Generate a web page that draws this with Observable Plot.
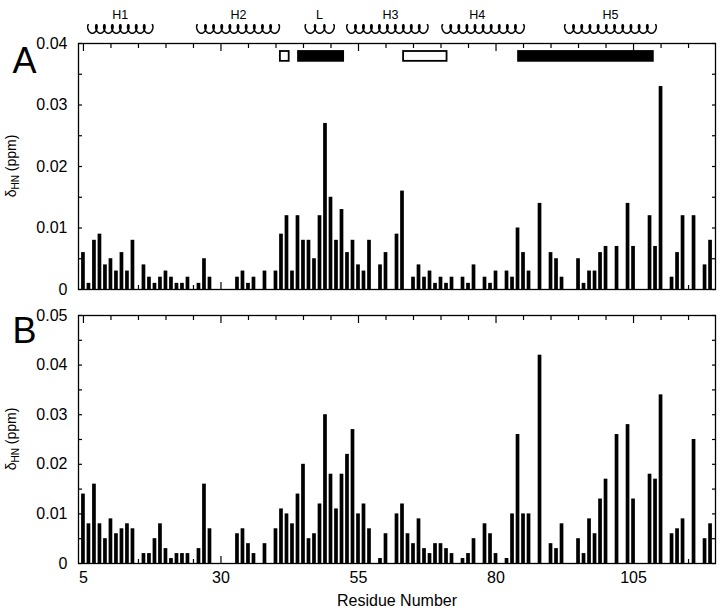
<!DOCTYPE html>
<html><head><meta charset="utf-8">
<script src="https://cdn.jsdelivr.net/npm/d3@7"></script>
<script src="https://cdn.jsdelivr.net/npm/@observablehq/plot@0.6"></script>
<style>
body{margin:0;background:#fff;}
#chart{width:724px;height:614px;background:#fff;}
#chart svg{display:block;}
</style></head><body><div id="chart"></div>
<script>
// ---- data ----
const residues = [5,6,7,8,9,10,11,12,13,14,15,16,17,18,19,20,21,22,23,24,25,26,27,28,29,30,31,32,33,34,35,36,37,38,39,40,41,42,43,44,45,46,47,48,49,50,51,52,53,54,55,56,57,58,59,60,61,62,63,64,65,66,67,68,69,70,71,72,73,74,75,76,77,78,79,80,81,82,83,84,85,86,87,88,89,90,91,92,93,94,95,96,97,98,99,100,101,102,103,104,105,106,107,108,109,110,111,112,113,114,115,116,117,118,119];

const valuesA = [
  0.006,0.001,0.008,0.009,0.004,0.005,0.003,0.006,0.003,0.008,
  null,0.004,0.002,0.001,0.002,0.003,0.002,0.001,0.001,0.002,
  null,0.001,0.005,0.002,null,null,null,null,0.002,0.003,
  0.001,0.002,null,0.003,null,0.003,0.009,0.012,0.003,0.012,
  0.008,0.008,0.005,0.012,0.027,0.015,0.008,0.013,0.006,0.008,
  0.004,0.003,0.008,null,0.004,0.006,null,0.009,0.016,null,
  0.002,0.004,0.002,0.003,0.001,0.002,0.001,0.002,null,0.002,
  0.001,0.004,null,0.002,0.001,0.003,null,0.003,0.002,0.010,
  0.006,0.003,null,0.014,null,0.006,0.005,0.002,null,null,
  0.005,0.001,0.003,0.003,0.006,0.007,null,0.007,null,0.014,
  0.007,null,null,0.012,0.007,0.033,null,0.002,0.006,0.012,
  null,0.012,null,0.004,0.008];

const valuesB = [
  0.014,0.008,0.016,0.008,0.005,0.009,0.006,0.007,0.008,0.007,
  null,0.002,0.002,0.005,0.008,0.003,0.001,0.002,0.002,0.002,
  null,0.003,0.016,0.007,null,null,null,null,0.006,0.007,
  0.004,0.002,null,0.004,null,0.007,0.011,0.010,0.008,0.014,
  0.020,0.005,0.006,0.012,0.030,0.018,0.011,0.018,0.022,0.027,
  0.010,0.012,0.007,null,0.001,0.006,null,0.010,0.012,0.006,
  0.004,0.009,0.003,0.002,0.004,0.004,0.003,0.002,null,0.001,
  0.002,0.005,null,0.008,0.006,0.002,null,0.001,0.010,0.026,
  0.010,0.010,null,0.042,null,0.004,0.003,0.008,null,null,
  0.005,0.002,0.009,0.006,0.013,0.017,null,0.026,null,0.028,
  0.013,null,null,0.018,0.017,0.034,null,0.006,0.007,0.009,
  null,0.025,null,0.005,0.008];

// secondary structure annotations (residue numbers)
const helixNames = ["H1","H2","L","H3","H4","H5"];
const helixStart = [5.9, 25.7, 45.4, 53.0, 70.3, 92.6];
const helixEnd   = [17.5, 40.5, 50.5, 67.5, 85.0, 109.0];
const helixLabelAt = [11.7, 33.2, 47.9, 60.8, 76.6, 100.8];

// boxes drawn in panel A (residue ranges), filled or open
const boxStart = [40.8, 44.1, 63.2, 84.1];
const boxEnd   = [42.4, 52.3, 71.1, 108.6];
const boxFilled = [false, true, false, true];

// ticks
const xTickLabels = [5, 30, 55, 80, 105];
const xMinorTicks = [10,15,20,25,35,40,45,50,60,65,70,75,85,90,95,100,110,115];
const yTicksA = [0, 0.01, 0.02, 0.03, 0.04];
const yMinorA = [0.005, 0.015, 0.025, 0.035];
const yTicksB = [0, 0.01, 0.02, 0.03, 0.04, 0.05];
const yMinorB = [0.005, 0.015, 0.025, 0.035, 0.045];

// ---- drawing ----
const FONT = '"Liberation Sans", Arial, Helvetica, sans-serif';
const X_DOMAIN = [4.1, 119.9];
const ML = 78, MR = 9;

function bars(vals) {
  return residues.map((r, i) => ({r, v: vals[i]})).filter(d => d.v != null);
}

function commonAxes(yTicks, yMinor) {
  const fmt = d => d === 0 ? "0" : d.toFixed(2);
  return [
    Plot.axisX(xTickLabels, {anchor: "top", tickSize: -7, tickFormat: () => "", label: null, strokeWidth: 1.2}),
    Plot.axisX(xMinorTicks, {anchor: "top", tickSize: -4, tickFormat: () => "", label: null, strokeWidth: 1.2}),
    Plot.axisX(xTickLabels, {anchor: "bottom", tickSize: -7, tickFormat: () => "", label: null, strokeWidth: 1.2}),
    Plot.axisX(xMinorTicks, {anchor: "bottom", tickSize: -4, tickFormat: () => "", label: null, strokeWidth: 1.2}),
    Plot.axisY(yTicks, {anchor: "left", tickSize: 0, tickPadding: 11, tickFormat: fmt, label: null, fontSize: 16}),
    Plot.axisY(yTicks.concat(yMinor), {anchor: "left", tickSize: -4, tickFormat: () => "", label: null, strokeWidth: 1.2}),
    Plot.axisY(yTicks.concat(yMinor), {anchor: "right", tickSize: -4, tickFormat: () => "", label: null, strokeWidth: 1.2})
  ];
}

function addYLabel(svg, cy) {
  const t = d3.select(svg).append("text")
    .attr("transform", `translate(16,${cy}) rotate(-90)`)
    .attr("text-anchor", "middle")
    .attr("font-family", FONT)
    .attr("font-size", 14)
    .attr("fill", "black");
  t.append("tspan").text("δ");
  t.append("tspan").attr("font-size", 10).attr("dy", 3).text("HN");
  t.append("tspan").attr("dy", -3).text(" (ppm)");
}

// coil geometry for helix glyphs (decoration)
const pxPerRes = (724 - ML - MR) / (X_DOMAIN[1] - X_DOMAIN[0]);
const yPerPxA = 0.04 / 246;
const coil = [];
helixNames.forEach((name, i) => {
  const s = helixStart[i], e = helixEnd[i];
  const n = Math.max(1, Math.round((e - s) / 1.5));
  const P = (e - s) / n;
  const b = 2.4 / pxPerRes;
  const c = 0.04 + 14.5 * yPerPxA;
  const h = 4.3 * yPerPxA;
  const steps = n * 40;
  for (let k = 0; k <= steps; k++) {
    const t = (k / steps) * n * 2 * Math.PI;
    coil.push({helix: name, x: s + P * t / (2 * Math.PI) - b * Math.sin(t), y: c + h * Math.cos(t)});
  }
});

const helices = helixNames.map((name, i) => ({name, x: helixLabelAt[i]}));
const boxes = boxStart.map((s, i) => ({x1: s, x2: boxEnd[i], filled: boxFilled[i]}));

const plotA = Plot.plot({
  width: 724, height: 300,
  marginTop: 43, marginBottom: 11, marginLeft: ML, marginRight: MR,
  style: {fontFamily: FONT, fontSize: "16px", color: "black", background: "white", overflow: "visible"},
  x: {domain: X_DOMAIN, label: null},
  y: {domain: [0, 0.04], label: null},
  marks: [
    Plot.rectY(bars(valuesA), {x1: d => d.r - 0.5, x2: d => d.r + 0.5, y: "v", fill: "black", insetLeft: 0.9, insetRight: 0.9}),
    Plot.rect(boxes, {x1: "x1", x2: "x2", y1: 0.0371, y2: 0.0387, fill: d => d.filled ? "black" : "white", stroke: "black", strokeWidth: 1.8}),
    Plot.line(coil, {x: "x", y: "y", z: "helix", stroke: "black", strokeWidth: 1.5, curve: "linear"}),
    Plot.text(helices, {x: "x", text: "name", frameAnchor: "top", dy: -29, fontSize: 12.5, lineAnchor: "middle", fill: "black"}),
    Plot.text(["A"], {frameAnchor: "top-left", dx: -54, dy: 18, fontSize: 36, textAnchor: "middle", lineAnchor: "middle", fill: "black"}),
    ...commonAxes(yTicksA, yMinorA),
    Plot.frame({stroke: "black", strokeWidth: 1.3})
  ]
});
addYLabel(plotA, 166);

const plotB = Plot.plot({
  width: 724, height: 314,
  marginTop: 15, marginBottom: 51, marginLeft: ML, marginRight: MR,
  style: {fontFamily: FONT, fontSize: "16px", color: "black", background: "white", overflow: "visible"},
  x: {domain: X_DOMAIN, label: null},
  y: {domain: [0, 0.05], label: null},
  marks: [
    Plot.rectY(bars(valuesB), {x1: d => d.r - 0.5, x2: d => d.r + 0.5, y: "v", fill: "black", insetLeft: 0.9, insetRight: 0.9}),
    Plot.text(["B"], {frameAnchor: "top-left", dx: -54, dy: 16, fontSize: 36, textAnchor: "middle", lineAnchor: "middle", fill: "black"}),
    ...commonAxes(yTicksB, yMinorB),
    Plot.axisX(xTickLabels, {anchor: "bottom", tickSize: 0, tickPadding: 8, label: null, fontSize: 16}),
    Plot.text(["Residue Number"], {frameAnchor: "bottom", dy: 37, fontSize: 16, lineAnchor: "middle", fill: "black"}),
    Plot.frame({stroke: "black", strokeWidth: 1.3})
  ]
});
addYLabel(plotB, 139);

document.getElementById("chart").append(plotA, plotB);
</script></body></html>
